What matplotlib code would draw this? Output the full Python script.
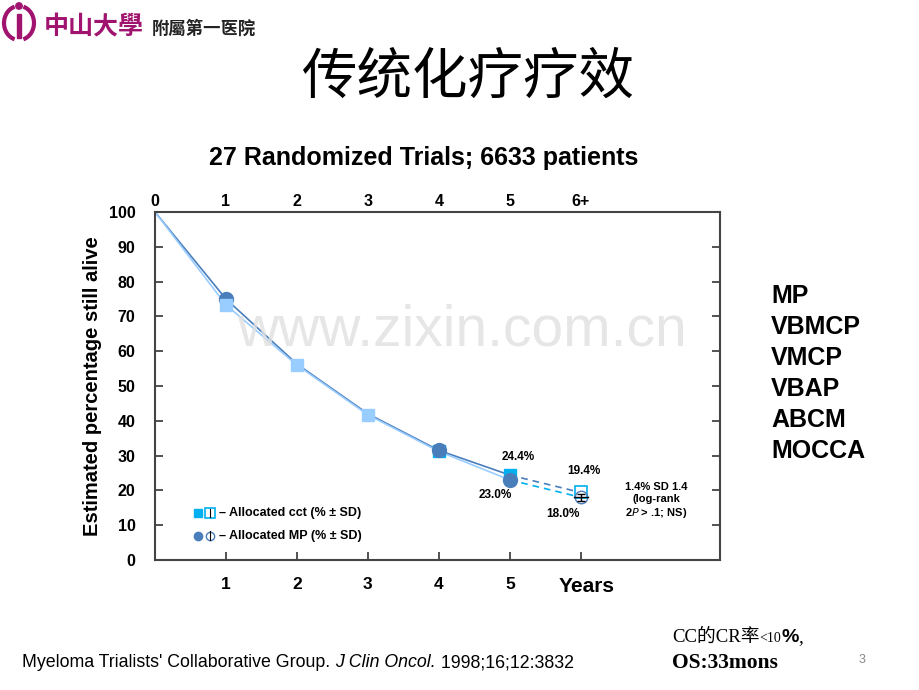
import matplotlib
matplotlib.use("Agg")
import matplotlib.pyplot as plt
from matplotlib.patches import Circle, Rectangle, Arc

plt.rcParams['font.family'] = ['Liberation Sans', 'Noto Sans CJK SC', 'DejaVu Sans']

# ---- data ----
years = [0, 1, 2, 3, 4, 5, 6]
top_labels = ['0', '1', '2', '3', '4', '5', '6+']
bottom_labels = ['1', '2', '3', '4', '5']
cct_vals = [100, 73.3, 56.0, 41.7, 31.2, 24.4, 19.4]
mp_vals = [100, 75.0, 56.3, 42.0, 31.5, 23.0, 18.0]
line_dark = [100, 75.0, 56.3, 42.0, 31.5, 24.4, 19.4]
line_light = [100, 73.3, 56.0, 41.7, 31.2, 23.0, 18.0]
sd = [0, 1.0, 1.0, 1.0, 1.0, 1.0, 1.0]
yticks = [0, 10, 20, 30, 40, 50, 60, 70, 80, 90, 100]
regimens = ['MP', 'VBMCP', 'VMCP', 'VBAP', 'ABCM', 'MOCCA']

W, H = 920, 690
fig = plt.figure(figsize=(W / 100, H / 100), dpi=100)

def fx(px):
    return px / W

def fy(py):
    return 1 - py / H

ax = fig.add_axes([fx(155), fy(560), fx(720) - fx(155), fy(212) - fy(560)])
ax.set_xlim(0, 7.96)
ax.set_ylim(0, 100)

dark = '#4a7ebb'
light = '#99ccff'
cyan = '#00b0f0'

ax.plot(years[:6], line_dark[:6], color=dark, lw=1.2, zorder=2)
ax.plot(years[:6], line_light[:6], color=light, lw=1.2, zorder=2)
ax.plot(years[5:], line_dark[5:], color=dark, lw=1.2, ls=(0, (4, 3)), zorder=2)
ax.plot(years[5:], line_light[5:], color=cyan, lw=1.2, ls=(0, (4, 3)), zorder=2)

ax.errorbar(years[1:6], cct_vals[1:6], yerr=sd[1:6], fmt='none', ecolor='black', elinewidth=1, capsize=2, zorder=3)
ax.errorbar(years[1:6], mp_vals[1:6], yerr=sd[1:6], fmt='none', ecolor='black', elinewidth=1, capsize=2, zorder=3)

sq_colors = [light, light, light, cyan, cyan]
for i in range(1, 6):
    ax.plot(years[i], cct_vals[i], marker='s', ms=8, mfc=sq_colors[i - 1], mec=sq_colors[i - 1], zorder=4)
for i in range(1, 6):
    if i in (2, 3):
        continue
    ax.plot(years[i], mp_vals[i], marker='o', ms=10, mfc=dark, mec=dark, zorder=5 if i != 1 else 3)
ax.plot(years[6], cct_vals[6], marker='s', ms=9, mfc='white', mec=cyan, mew=1.2, zorder=4)
ax.plot(years[6], mp_vals[6], marker='o', ms=9, mfc='none', mec=dark, mew=1.0, zorder=5)
ax.errorbar([years[6]], [mp_vals[6]], yerr=[sd[6]], fmt='none', ecolor='black', elinewidth=1, capsize=3, zorder=6)
ax.plot([years[6] - 0.1, years[6] + 0.1], [mp_vals[6], mp_vals[6]], color='black', lw=1, zorder=6)

for s in ['left', 'right', 'top', 'bottom']:
    ax.spines[s].set_color('#444444')
    ax.spines[s].set_linewidth(1.5)
ax.set_yticks(yticks)
ax.set_yticklabels([str(v) for v in yticks], fontsize=11.5, fontweight='bold')
ax.tick_params(axis='y', direction='in', length=6, width=1.3, color='#444444', right=True, left=True, pad=14)
ax.set_xticks(years[1:])
ax.set_xticklabels(bottom_labels + [''], fontsize=12.5, fontweight='bold')
ax.tick_params(axis='x', direction='in', length=6, width=1.3, color='#444444', pad=12)
ax.text(6.08, -5, 'Years', fontsize=15, fontweight='bold', ha='center', va='top')

secax = ax.secondary_xaxis('top')
secax.set_xticks(years)
secax.set_xticklabels(top_labels, fontsize=11.5, fontweight='bold')
secax.tick_params(length=0, pad=2)
secax.spines['top'].set_visible(False)

ax.set_ylabel('Estimated percentage still alive', fontsize=14.5, fontweight='bold', labelpad=5)

ax.text(5.12, 29.5, '24.4%', fontsize=8.5, fontweight='bold', ha='center', va='center')
ax.text(4.8, 18.8, '23.0%', fontsize=8.5, fontweight='bold', ha='center', va='center')
ax.text(6.04, 25.5, '19.4%', fontsize=8.5, fontweight='bold', ha='center', va='center')
ax.text(5.75, 13.3, '18.0%', fontsize=8.5, fontweight='bold', ha='center', va='center')
ax.text(7.06, 17.0, '1.4% SD 1.4\n(log-rank\n2$\\it{P}$ > .1; NS)', fontsize=8, fontweight='bold',
        ha='center', va='center', linespacing=1.2)

ax.plot(0.6, 13.5, marker='s', ms=6, mfc=cyan, mec=cyan, ls='none')
ax.plot(0.78, 13.5, marker='s', ms=7, mfc='white', mec=cyan, mew=1.2, ls='none')
ax.plot([0.78, 0.78], [12.3, 14.7], color='black', lw=0.8)
ax.text(0.9, 13.5, '– Allocated cct (% ± SD)', fontsize=9, fontweight='bold', va='center')
ax.plot(0.6, 7.0, marker='o', ms=6, mfc=dark, mec=dark, ls='none')
ax.plot(0.78, 7.0, marker='o', ms=6, mfc='white', mec=dark, mew=1.0, ls='none')
ax.plot([0.78, 0.78], [5.8, 8.2], color='black', lw=0.8)
ax.text(0.9, 7.0, '– Allocated MP (% ± SD)', fontsize=9, fontweight='bold', va='center')

fig.text(fx(468), fy(78), '传统化疗疗效', fontsize=40, ha='center', va='center',
         family=['Noto Sans CJK SC'])
fig.text(fx(424), fy(158), '27 Randomized Trials; 6633 patients', fontsize=18, fontweight='bold',
         ha='center', va='center')

fig.text(fx(462), fy(330), 'www.zixin.com.cn', fontsize=41, color='#e0e0e0', alpha=0.8,
         ha='center', va='center', zorder=10)

for i, r in enumerate(regimens):
    fig.text(fx(771), fy(296 + i * 31), r, fontsize=18, fontweight='bold', ha='left', va='center')

renderer = fig.canvas.get_renderer()

def seq(x0, ypx, pieces):
    x = x0
    for txt, kw in pieces:
        t = fig.text(fx(x), fy(ypx), txt, ha='left', va='baseline', **kw)
        bb = t.get_window_extent(renderer=renderer)
        x += bb.width

seq(22, 667, [("Myeloma Trialists' Collaborative Group. ", dict(fontsize=12.8)),
              ("J Clin Oncol.", dict(fontsize=12.8, style='italic')),
              (" 1998;16;12:3832", dict(fontsize=12.8))])

serif = ['Liberation Serif', 'Noto Sans CJK SC']
seq(672, 642, [('CC的CR率', dict(fontsize=13.5, family=serif)),
               ('<10', dict(fontsize=10, family=['Liberation Serif'])),
               ('%', dict(fontsize=14, fontweight='bold', family=['Liberation Sans'])),
               (',', dict(fontsize=14, family=['Liberation Serif']))])
fig.text(fx(672), fy(663), 'OS:33mons', fontsize=15.5, fontweight='bold', ha='left', va='center',
         family=['Liberation Serif'])
fig.text(fx(862), fy(660), '3', fontsize=9, color='#888888', ha='center', va='center')

logo_c = '#a0136e'
lax = fig.add_axes([fx(0), fy(44), fx(40), fy(0) - fy(44)])
lax.set_xlim(0, 40)
lax.set_ylim(0, 44)
lax.axis('off')
lax.add_patch(Arc((19, 21), 30, 34, theta1=105, theta2=255, color=logo_c, lw=3))
lax.add_patch(Arc((19, 21), 30, 34, theta1=-75, theta2=75, color=logo_c, lw=3))
lax.add_patch(Rectangle((17, 6), 4, 24, color=logo_c))
lax.add_patch(Circle((19, 38), 3.2, color=logo_c))
fig.text(fx(44), fy(27), '中山大學', fontsize=18, fontweight='bold', color=logo_c, ha='left', va='center',
         family=['Noto Sans CJK SC'])
fig.text(fx(152), fy(29), '附屬第一医院', fontsize=12.5, fontweight='bold', color='#222222', ha='left', va='center',
         family=['Noto Sans CJK TC', 'Noto Sans CJK SC'])

fig.savefig('out.png', dpi=100)
